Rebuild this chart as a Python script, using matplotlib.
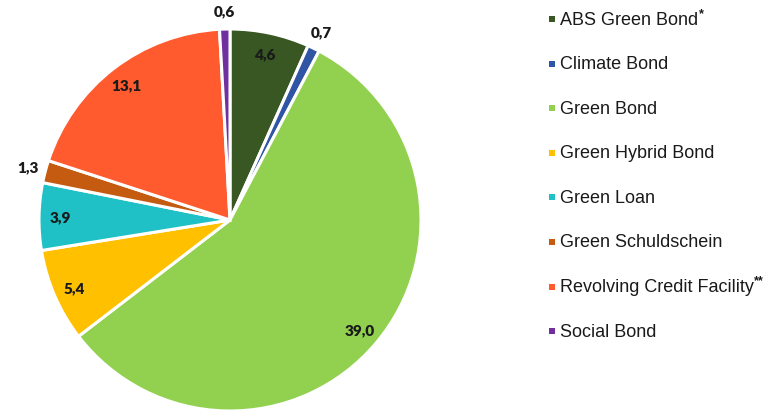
import matplotlib
matplotlib.use("Agg")
import matplotlib.pyplot as plt
import numpy as np

categories = ["ABS Green Bond", "Climate Bond", "Green Bond", "Green Hybrid Bond",
              "Green Loan", "Green Schuldschein", "Revolving Credit Facility", "Social Bond"]
legend_suffix = ["*", "", "", "", "", "", "**", ""]
values = [4.6, 0.7, 39.0, 5.4, 3.9, 1.3, 13.1, 0.6]
value_labels = ["4,6", "0,7", "39,0", "5,4", "3,9", "1,3", "13,1", "0,6"]
colors = ["#385723", "#2f55a4", "#92d050", "#ffc000", "#1fc1c6", "#c55a11", "#ff5b2f", "#7030a0"]
outside = [False, True, False, False, False, True, False, True]

W, H = 778, 414
fig = plt.figure(figsize=(W / 100, H / 100), dpi=100)
ax = fig.add_axes([0, 0, 1, 1])
ax.set_xlim(0, W)
ax.set_ylim(0, H)
ax.set_aspect("equal")
ax.axis("off")

cx, cy, R = 230, H - 221, 191
wedges, _ = ax.pie(values, colors=colors, startangle=90, counterclock=False,
                   center=(cx, cy), radius=R,
                   wedgeprops=dict(edgecolor="white", linewidth=2.2))
ax.set_xlim(0, W)
ax.set_ylim(0, H)

lab_font = dict(family=["Lato", "DejaVu Sans"], fontweight="heavy", fontsize=11, color="#1a1a1a")
for w, lab, out in zip(wedges, value_labels, outside):
    ang = np.deg2rad((w.theta1 + w.theta2) / 2)
    r = R * (1.095 if out else 0.89)
    x, y = cx + r * np.cos(ang), cy + r * np.sin(ang)
    ax.text(x, y, lab, ha="center", va="center", **lab_font)

# legend
leg_x, leg_y0, leg_dy = 552, H - 20, 44.6
for i, (cat, suf, col) in enumerate(zip(categories, legend_suffix, colors)):
    y = leg_y0 - i * leg_dy
    ax.scatter([leg_x], [y], marker="s", s=22, color=col, linewidths=0)
    t = ax.text(leg_x + 8, y, cat, ha="left", va="center", fontsize=13,
                family="Liberation Sans", color="#1a1a1a")
    if suf:
        fig.canvas.draw()
        bb = t.get_window_extent()
        ax.text(bb.x1 + 0.5, y + 6, suf, ha="left", va="center", fontsize=9,
                family="Liberation Sans", color="#1a1a1a", fontweight="bold")

fig.savefig("out.png", dpi=100)
